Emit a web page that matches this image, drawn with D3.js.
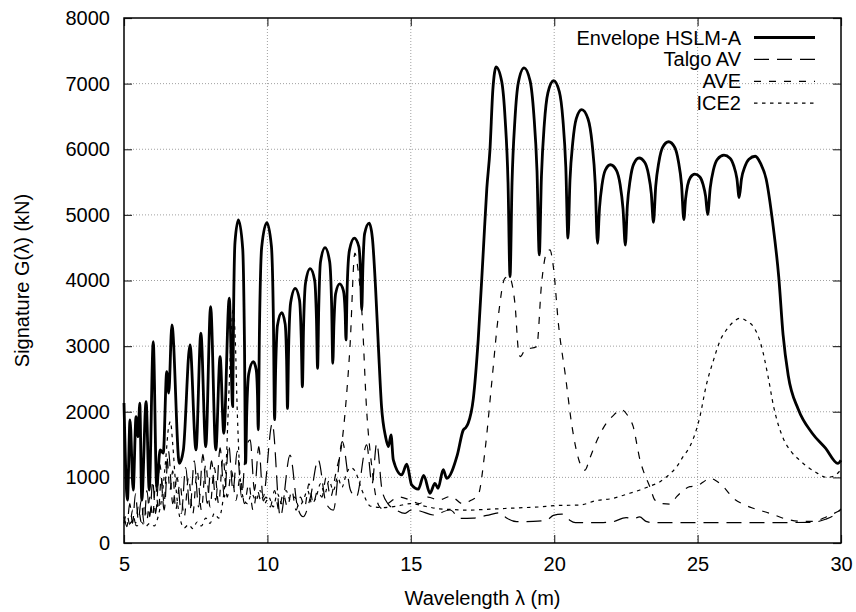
<!DOCTYPE html>
<html lang="en">
<head>
<meta charset="UTF-8">
<title>Signature G(lambda)</title>
<script src="https://d3js.org/d3.v7.min.js"></script>
<style>
    body { margin: 0; background: #fff; }
    svg { display: block; font-family: "Liberation Sans", Arial, sans-serif; }
</style>
</head>
<body>
<div id="chart"></div>
<script>
// ---- data ----
var xTicks = [5, 10, 15, 20, 25, 30];
var yTicks = [0, 1000, 2000, 3000, 4000, 5000, 6000, 7000, 8000];
var seriesNames = ['Envelope HSLM-A', 'Talgo AV', 'AVE', 'ICE2'];

// [wavelength (m), G (kN)]
var envelope = [
    [5.0,2134],[5.12,655],[5.21,1875],[5.32,808],[5.42,1925],[5.49,1620],[5.55,2130],[5.62,655],
    [5.77,2154],[5.88,808],[6.02,3069],[6.14,858],[6.26,1418],[6.37,1370],[6.49,2611],[6.56,2286],
    [6.67,3323],[6.93,1215],[7.07,1418],[7.30,3018],[7.51,1418],[7.68,3197],[7.85,1468],[8.02,3603],
    [8.20,1418],[8.35,2840],[8.48,1672],[8.67,3730],[8.79,2078],[8.82,3501],[8.87,4582],[8.99,4924],
    [9.14,4479],[9.20,3070],[9.24,1215],[9.28,1990],[9.35,2578],[9.51,2764],[9.61,2639],[9.655,2244],
    [9.68,1723],[9.725,3303],[9.80,4504],[9.98,4883],[10.14,4523],[10.21,3382],[10.25,1880],[10.29,2695],
    [10.35,3314],[10.50,3510],[10.62,3335],[10.67,2780],[10.70,2050],[10.74,2965],[10.81,3660],[10.97,3880],
    [11.12,3700],[11.18,3130],[11.22,2380],[11.26,3280],[11.33,3964],[11.49,4180],[11.65,3998],[11.71,3422],
    [11.75,2663],[11.79,3582],[11.85,4280],[12.01,4500],[12.17,4289],[12.24,3620],[12.28,2739],[12.32,3344],
    [12.38,3803],[12.52,3948],[12.65,3846],[12.71,3521],[12.74,3094],[12.78,3870],[12.86,4459],[13.03,4645],
    [13.19,4514],[13.25,4099],[13.29,3552],[13.33,4213],[13.39,4714],[13.55,4873],[13.66,4650],[13.77,3900],
    [13.87,2993],[13.98,2078],[14.12,1621],[14.22,1468],[14.31,1646],[14.39,1265],
    [14.68,1037],[14.86,1200],[15.03,884],[15.26,820],[15.45,1030],[15.67,757],[15.84,910],[15.95,834],
    [16.13,1118],[16.25,986],[16.62,1340],[16.83,1722],[16.92,1760],[17.00,1824],[17.18,2200],[17.35,3094],
    [17.53,4466],[17.65,5400],[17.76,5991],[17.86,6900],[17.92,7170],[17.97,7256],[18.17,7032],[18.29,6457],
    [18.39,5498],[18.46,4060],[18.53,5491],[18.63,6446],[18.75,7018],[18.95,7241],[19.16,7041],[19.29,6528],
    [19.40,5673],[19.48,4390],[19.555,5584],[19.655,6381],[19.78,6858],[19.98,7044],[20.18,6876],[20.305,6444],
    [20.405,5725],[20.48,4645],[20.55,5527],[20.65,6115],[20.77,6468],[20.96,6605],[21.18,6462],[21.32,6096],
    [21.43,5484],[21.51,4567],[21.58,5106],[21.67,5465],[21.78,5680],[21.96,5764],[22.17,5678],[22.30,5458],
    [22.40,5091],[22.48,4541],[22.55,5138],[22.65,5536],[22.77,5774],[22.96,5867],[23.16,5798],[23.285,5622],
    [23.385,5328],[23.46,4887],[23.54,5439],[23.65,5807],[23.78,6028],[23.99,6114],[24.20,6031],[24.33,5818],
    [24.44,5462],[24.52,4928],[24.58,5239],[24.65,5447],[24.75,5572],[24.90,5620],[25.08,5577],[25.19,5466],
    [25.28,5282],[25.35,5005],[25.44,5412],[25.55,5683],[25.69,5846],[25.92,5909],[26.13,5864],[26.26,5748],
    [26.37,5554],[26.45,5264],[26.53,5547],[26.65,5736],[26.79,5849],[27.01,5893],[27.20,5780],[27.39,5547],
    [27.62,4877],[27.83,4050],[27.98,3174],[28.16,2553],[28.51,2038],[28.99,1677],[29.46,1445],[29.89,1212],
    [30.0,1260]
];

var talgo = [
    [5.0,400],[5.1,250],[5.2,600],[5.3,300],[5.4,750],[5.5,350],[5.6,650],[5.7,300],[5.8,800],[5.9,400],
    [6.0,950],[6.1,450],[6.25,1200],[6.4,500],[6.55,1400],[6.7,600],[6.85,1000],[7.0,450],[7.15,1150],
    [7.3,500],[7.45,1250],[7.6,550],[7.75,1350],[7.9,600],[8.05,1250],[8.2,650],[8.35,1450],[8.5,700],
    [8.65,1500],[8.8,800],[8.95,1400],[9.1,700],[9.25,1450],[9.4,1570],[9.55,800],[9.7,1470],[9.85,700],
    [10.17,1820],[10.45,400],[10.79,1340],[11.05,550],[11.25,400],[11.5,700],[11.77,1270],[12.05,600],
    [12.3,500],[12.61,1545],[12.9,800],[13.1,700],[13.46,1494],[13.65,900],[13.81,1520],[14.0,800],
    [14.2,600],[14.5,500],[14.8,450],[15.0,500],[15.32,488],[15.78,427],[16.37,503],[16.72,376],
    [17.18,380],[17.65,420],[18.11,460],[18.34,380],[18.69,325],[19.27,330],[19.74,350],[19.97,420],
    [20.27,440],[20.5,360],[20.74,309],[21.6,310],[22.0,320],[22.51,387],[22.75,370],[22.98,397],
    [23.2,330],[23.46,309],[25.0,310],[27.0,310],[29.0,315],[29.46,361],[29.75,420],[30.0,520]
];

var ave = [
    [5.0,300],[5.1,450],[5.2,280],[5.3,500],[5.4,300],[5.5,550],[5.6,320],[5.7,600],[5.8,350],[5.9,700],
    [6.0,400],[6.1,900],[6.2,500],[6.3,1000],[6.4,600],[6.5,1300],[6.6,800],[6.7,1100],[6.8,500],
    [6.95,900],[7.1,400],[7.25,1000],[7.4,450],[7.55,1100],[7.7,500],[7.85,1200],[8.0,550],[8.15,1150],
    [8.3,600],[8.45,1300],[8.6,700],[8.75,1100],[8.9,650],[9.05,1000],[9.2,600],[9.35,900],[9.5,500],
    [9.65,800],[9.8,600],[9.95,700],[10.1,550],[10.25,800],[10.4,500],[10.55,750],[10.7,550],[10.85,800],
    [11.0,500],[11.15,700],[11.3,550],[11.45,900],[11.6,600],[11.75,800],[11.9,700],[12.05,1000],
    [12.2,700],[12.4,1100],[12.59,1500],[12.75,2200],[12.88,2993],[13.05,4416],[13.15,4200],[13.29,3552],
    [13.46,2027],[13.64,1163],[13.81,655],[13.98,529],[14.2,600],[14.6,700],[15.0,650],[15.3,600],
    [15.6,700],[15.96,655],[16.4,710],[16.8,600],[17.1,650],[17.35,732],[17.59,1418],[17.82,2434],
    [18.05,3450],[18.28,4035],[18.42,4060],[18.63,3654],[18.75,2942],[18.82,2840],[18.98,2942],
    [19.39,2993],[19.56,3958],[19.74,4430],[19.85,4466],[19.97,4212],[20.15,3327],[20.39,2553],
    [20.62,1780],[20.86,1264],[21.07,1110],[21.25,1300],[21.45,1521],[21.75,1780],[22.04,1934],
    [22.35,2030],[22.55,1950],[22.75,1780],[23.0,1250],[23.10,1110],[23.34,851],[23.51,655],[23.75,600],
    [24.05,593],[24.27,706],[24.5,800],[24.73,858],[24.97,870],[25.2,930],[25.43,990],[25.6,960],
    [25.90,858],[26.25,681],[26.6,590],[26.94,529],[27.52,452],[28.11,361],[28.6,330],[29.03,330],
    [29.5,401],[30.0,503]
];

var ice2 = [
    [5.0,350],[5.15,280],[5.3,330],[5.45,260],[5.6,320],[5.75,250],[5.9,300],[6.05,260],[6.2,420],
    [6.35,800],[6.45,1250],[6.55,1750],[6.62,1850],[6.7,1500],[6.8,900],[6.9,500],[7.0,300],[7.1,230],
    [7.25,280],[7.4,220],[7.55,320],[7.7,260],[7.85,380],[8.0,300],[8.15,450],[8.3,380],[8.45,650],
    [8.55,1100],[8.65,2200],[8.75,3300],[8.81,3580],[8.88,3100],[8.95,2000],[9.05,1000],[9.15,700],
    [9.3,600],[9.45,750],[9.6,650],[9.75,800],[9.9,600],[10.05,700],[10.2,550],[10.35,750],[10.5,600],
    [10.65,800],[10.8,650],[10.95,700],[11.1,550],[11.25,650],[11.4,800],[11.55,600],[11.7,700],
    [11.85,900],[12.0,750],[12.15,950],[12.3,800],[12.45,1000],[12.6,850],[12.75,1050],[12.9,1150],
    [13.05,1100],[13.3,800],[13.6,560],[14.0,540],[14.5,560],[15.0,600],[15.5,560],[16.0,520],
    [16.5,510],[17.0,500],[17.5,510],[18.0,520],[18.5,530],[19.0,540],[19.5,550],[20.0,570],
    [20.9,579],[21.45,645],[22.06,681],[22.5,740],[22.99,808],[23.3,860],[23.69,935],[24.0,1040],
    [24.27,1160],[24.5,1320],[24.73,1470],[25.08,1925],[25.3,2400],[25.55,2780],[25.8,3100],
    [26.01,3250],[26.25,3370],[26.5,3425],[26.75,3370],[26.94,3300],[27.22,3010],[27.45,2553],
    [27.65,2080],[27.98,1600],[28.25,1400],[28.55,1265],[28.8,1170],[29.1,1084],[29.5,1000],
    [29.75,1020],[30.0,1120]
];

// ---- layout ----
var width = 856, height = 612;
var margin = {left: 124, right: 15, top: 18, bottom: 69};

var svg = d3.select('#chart').append('svg')
    .attr('width', width)
    .attr('height', height);

var x = d3.scaleLinear().domain([5, 30]).range([margin.left, width - margin.right]);
var y = d3.scaleLinear().domain([0, 8000]).range([height - margin.bottom, margin.top]);

var x0 = x.range()[0], x1 = x.range()[1];
var y0 = y.range()[0], y1 = y.range()[1];

// grid
var grid = svg.append('g')
    .attr('stroke', '#a0a0a0')
    .attr('stroke-width', 1)
    .attr('stroke-dasharray', '1,2');
grid.selectAll('.gx')
    .data(xTicks.slice(1, -1))
    .join('line')
    .attr('x1', d => x(d)).attr('x2', d => x(d))
    .attr('y1', y0).attr('y2', y1);
grid.selectAll('.gy')
    .data(yTicks.slice(1, -1))
    .join('line')
    .attr('x1', x0).attr('x2', x1)
    .attr('y1', d => y(d)).attr('y2', d => y(d));

// axes (gnuplot style: ticks inside, mirrored)
var tickLen = 8;
var axisBottom = svg.append('g')
    .attr('transform', 'translate(0,' + y0 + ')')
    .call(d3.axisBottom(x).tickValues(xTicks).tickSize(-tickLen).tickPadding(14).tickFormat(d3.format('d')));
var axisTop = svg.append('g')
    .attr('transform', 'translate(0,' + y1 + ')')
    .call(d3.axisTop(x).tickValues(xTicks).tickSize(-tickLen).tickFormat(''));
var axisLeft = svg.append('g')
    .attr('transform', 'translate(' + x0 + ',0)')
    .call(d3.axisLeft(y).tickValues(yTicks).tickSize(-tickLen).tickPadding(14).tickFormat(d3.format('d')));
var axisRight = svg.append('g')
    .attr('transform', 'translate(' + x1 + ',0)')
    .call(d3.axisRight(y).tickValues(yTicks).tickSize(-tickLen).tickFormat(''));

[axisBottom, axisTop, axisLeft, axisRight].forEach(function(a) {
    a.select('.domain').remove();
    a.selectAll('.tick line').attr('stroke', '#333').attr('stroke-width', 1.2);
    a.selectAll('text')
        .attr('fill', '#000')
        .style('font-size', '20px')
        .style('font-family', '"Liberation Sans", Arial, sans-serif');
});
axisBottom.selectAll('text').attr('dy', '0.71em');

// plot lines
var line = d3.line()
    .x(d => x(d[0]))
    .y(d => y(d[1]))
    .curve(d3.curveMonotoneX);

var styles = [
    {data: envelope, width: 2.8, dash: null},
    {data: talgo, width: 1.2, dash: '15,8'},
    {data: ave, width: 1.2, dash: '7,8'},
    {data: ice2, width: 1.2, dash: '3.5,4.5'}
];

var plot = svg.append('g');
// thin lines first, envelope on top
styles.slice().reverse().forEach(function(s) {
    plot.append('path')
        .datum(s.data)
        .attr('d', line)
        .attr('fill', 'none')
        .attr('stroke', '#000')
        .attr('stroke-width', s.width)
        .attr('stroke-linejoin', 'round')
        .attr('stroke-dasharray', s.dash);
});

// frame
svg.append('rect')
    .attr('x', x0).attr('y', y1)
    .attr('width', x1 - x0).attr('height', y0 - y1)
    .attr('fill', 'none')
    .attr('stroke', '#000')
    .attr('stroke-width', 1.5);

// legend
var legend = svg.append('g');
var legendRows = legend.selectAll('g')
    .data(seriesNames)
    .join('g')
    .attr('transform', (d, i) => 'translate(0,' + (37.5 + i * 21.9) + ')');
legendRows.append('text')
    .attr('x', 741)
    .attr('dy', '0.35em')
    .attr('text-anchor', 'end')
    .style('font-size', '20px')
    .text(d => d);
legendRows.append('line')
    .attr('x1', 754).attr('x2', 815)
    .attr('stroke', '#000')
    .attr('stroke-width', (d, i) => styles[i].width)
    .attr('stroke-dasharray', (d, i) => styles[i].dash);

// axis titles
svg.append('text')
    .attr('x', (x0 + x1) / 2)
    .attr('y', 605)
    .attr('text-anchor', 'middle')
    .style('font-size', '20px')
    .text('Wavelength λ (m)');

svg.append('text')
    .attr('transform', 'translate(29,' + ((y0 + y1) / 2) + ') rotate(-90)')
    .attr('text-anchor', 'middle')
    .style('font-size', '20px')
    .text('Signature G(λ) (kN)');
</script>
</body>
</html>
